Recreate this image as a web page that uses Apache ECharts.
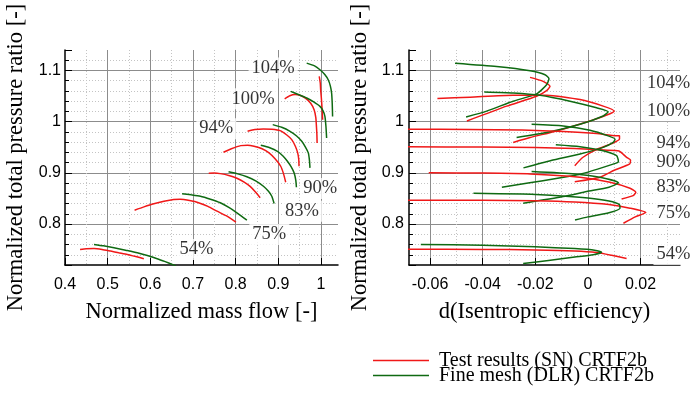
<!DOCTYPE html>
<html>
<head>
<meta charset="utf-8">
<script src="https://cdn.jsdelivr.net/npm/echarts@6/dist/echarts.min.js"></script>
<style>
  html, body { margin: 0; padding: 0; background: #fff; }
  #chart { width: 691px; height: 393px; }
</style>
</head>
<body>
<div id="chart"></div>
<script>
// Speed lines, [normalized mass flow, normalized total pressure ratio]
const speedNames = ['104%', '100%', '94%', '90%', '83%', '75%', '54%'];

const mapTest104 = [[0.996,1.0883],[0.9985,1.075],[0.9993,1.0624],[1.001,1.046],[1.0023,1.0298],[1.004,1.0039]];
const mapTest100 = [[0.915,1.0445],[0.927,1.0505],[0.9393,1.053],[0.952,1.051],[0.965,1.045],[0.976,1.036],[0.984,1.0234],[0.988,1.008],[0.9895,0.99],[0.9905,0.975],[0.991,0.9585]];
const mapTest94 = [[0.828,0.9811],[0.845,0.9845],[0.865,0.9858],[0.885,0.985],[0.904,0.9825],[0.92,0.974],[0.9315,0.9649],[0.94,0.952],[0.9455,0.939],[0.948,0.926],[0.9486,0.9129]];
const mapTest90 = [[0.7715,0.9402],[0.79,0.947],[0.812,0.9532],[0.828,0.954],[0.8432,0.9519],[0.862,0.947],[0.8783,0.939],[0.893,0.927],[0.9057,0.9129],[0.912,0.899],[0.9174,0.8817]];
const mapTest83 = [[0.737,0.899],[0.75,0.8995],[0.764,0.8985],[0.784,0.895],[0.803,0.8895],[0.82,0.882],[0.834,0.8735],[0.846,0.863],[0.8575,0.8513]];
const mapTest75 = [[0.5631,0.8271],[0.585,0.8335],[0.6082,0.8396],[0.632,0.8445],[0.6549,0.848],[0.67,0.8485],[0.6783,0.848],[0.695,0.8455],[0.7096,0.8427],[0.735,0.8345],[0.7563,0.8251],[0.7797,0.8154],[0.8007,0.8037]];
const mapTest54 = [[0.4353,0.7505],[0.45,0.7518],[0.468,0.7524],[0.487,0.7505],[0.507,0.7472],[0.526,0.744],[0.546,0.7407],[0.566,0.7365],[0.5848,0.7323]];

const mapCfd104 = [[0.9666,1.1144],[0.985,1.109],[0.9977,1.1014],[1.009,1.092],[1.017,1.0819],[1.022,1.07],[1.025,1.056],[1.0265,1.035],[1.0273,1.0103]];
const mapCfd100 = [[0.9291,1.0591],[0.947,1.053],[0.9666,1.0462],[0.983,1.0385],[0.9977,1.0298],[1.005,1.021],[1.0093,1.0103],[1.0118,0.99],[1.0133,0.9682]];
const mapCfd94 = [[0.887,0.9942],[0.908,0.989],[0.9276,0.9811],[0.943,0.972],[0.955,0.9616],[0.964,0.95],[0.9704,0.939],[0.973,0.925],[0.9743,0.9097]];
const mapCfd90 = [[0.859,0.9538],[0.88,0.949],[0.898,0.9421],[0.911,0.933],[0.9214,0.9226],[0.93,0.912],[0.937,0.9],[0.941,0.886],[0.9425,0.872]];
const mapCfd83 = [[0.7834,0.902],[0.805,0.898],[0.8264,0.8925],[0.847,0.8845],[0.8652,0.8739],[0.877,0.864],[0.8848,0.8544],[0.8902,0.8402]];
const mapCfd75 = [[0.6745,0.8591],[0.696,0.857],[0.7173,0.8544],[0.741,0.8485],[0.764,0.8415],[0.785,0.832],[0.803,0.822],[0.8264,0.8076]];
const mapCfd54 = [[0.468,0.7602],[0.49,0.7575],[0.5147,0.7538],[0.542,0.749],[0.5694,0.744],[0.593,0.7385],[0.6161,0.7323],[0.635,0.7265],[0.6512,0.7212],[0.66,0.718]];

// Speed lines, [delta isentropic efficiency, normalized total pressure ratio]
const effTest104 = [[-0.022,1.0865],[-0.017,1.0787],[-0.0144,1.069],[-0.0157,1.0606],[-0.0195,1.0497],[-0.0309,1.0303],[-0.046,1.0013]];
const effTest100 = [[-0.0572,1.0452],[-0.0448,1.0477],[-0.0284,1.0516],[-0.0157,1.0516],[-0.003,1.0432],[0.0058,1.0303],[0.010,1.0206],[0.0084,1.0155],[0.0008,1.0013],[-0.0119,0.9819],[-0.022,0.969],[-0.0284,0.9594]];
const effTest94 = [[-0.069,0.9852],[-0.045,0.9848],[-0.025,0.9835],[-0.0094,0.9806],[0.0033,0.9768],[0.0109,0.9725],[0.012,0.9725],[0.012,0.966],[0.009,0.957],[0.003,0.945],[-0.002,0.93],[-0.005,0.914]];
const effTest90 = [[-0.069,0.9508],[-0.04,0.9505],[-0.02,0.9495],[-0.005,0.9475],[0.006,0.9445],[0.0118,0.9427],[0.0147,0.9303],[0.0162,0.925],[0.0159,0.9176],[0.01,0.905],[0.0046,0.8915],[-0.005,0.8825]];
const effTest83 = [[-0.0605,0.90],[-0.04,0.8995],[-0.022,0.898],[-0.003,0.8915],[0.0084,0.8817],[0.016,0.87],[0.0182,0.8621],[0.0172,0.8556],[0.0128,0.849]];
const effTest75 = [[-0.069,0.8466],[-0.04,0.8466],[-0.02,0.8455],[-0.005,0.843],[0.008,0.838],[0.016,0.831],[0.022,0.8225],[0.018,0.814],[0.0135,0.8015]];
const effTest54 = [[-0.069,0.751],[-0.04,0.7505],[-0.02,0.7495],[-0.005,0.7475],[0.0033,0.7444],[0.009,0.739],[0.0147,0.7327]];

const effCfd104 = [[-0.0505,1.1142],[-0.0347,1.1077],[-0.022,1.0994],[-0.0163,1.0916],[-0.0148,1.0839],[-0.0157,1.0723],[-0.0195,1.0542],[-0.0284,1.04],[-0.0385,1.0206],[-0.0463,1.009]];
const effCfd100 = [[-0.0394,1.0581],[-0.0284,1.0561],[-0.0182,1.0516],[-0.0068,1.04],[0.0033,1.0271],[0.0077,1.0194],[0.0058,1.011],[-0.003,0.9948],[-0.0157,0.9787],[-0.0271,0.969]];
const effCfd94 = [[-0.0214,0.9948],[-0.0094,0.9916],[0.0008,0.9832],[0.0077,0.9723],[0.0103,0.9658],[0.0096,0.9594],[0.0058,0.9497],[-0.003,0.9368],[-0.014,0.924],[-0.0245,0.9097]];
const effCfd90 = [[-0.0122,0.9548],[-0.003,0.951],[0.0058,0.9432],[0.0109,0.9335],[0.0116,0.9226],[0.011,0.9195],[-0.0036,0.8967],[-0.0327,0.872]];
const effCfd83 = [[-0.0214,0.9026],[-0.005,0.898],[0.005,0.891],[0.0116,0.8805],[0.008,0.872],[-0.0005,0.8634],[-0.0094,0.8536],[-0.0246,0.8405]];
const effCfd75 = [[-0.0435,0.86],[-0.025,0.8585],[-0.01,0.855],[0.0,0.851],[0.008,0.845],[0.012,0.838],[0.0122,0.8307],[0.008,0.822],[0.0,0.814],[-0.0049,0.8078]];
const effCfd54 = [[-0.0635,0.7602],[-0.04,0.7585],[-0.02,0.7555],[-0.005,0.752],[0.003,0.7485],[0.0052,0.745],[0.002,0.74],[-0.005,0.7355],[-0.015,0.729],[-0.0246,0.7229]];

// Where each speed tag sits, in axis units of its panel
const mapTagAnchors = [[0.888,1.1047],[0.8407,1.0448],[0.7547,0.9864],[0.9984,0.8694],[0.9556,0.8251],[0.879,0.7797],[0.7084,0.7505]];
const effTagAnchors = [[0.0307,1.0754],[0.0307,1.0214],[0.0325,0.9585],[0.0325,0.9214],[0.0325,0.8723],[0.0325,0.822],[0.0325,0.7407]];

const TEST = 'Test results (SN) CRTF2b';
const CFD = 'Fine mesh (DLR) CRTF2b';
const RED = '#f01818';
const GREEN = '#0f6a12';

const mapTest = [mapTest104, mapTest100, mapTest94, mapTest90, mapTest83, mapTest75, mapTest54];
const mapCfd = [mapCfd104, mapCfd100, mapCfd94, mapCfd90, mapCfd83, mapCfd75, mapCfd54];
const effTest = [effTest104, effTest100, effTest94, effTest90, effTest83, effTest75, effTest54];
const effCfd = [effCfd104, effCfd100, effCfd94, effCfd90, effCfd83, effCfd75, effCfd54];

const SERIF = 'Liberation Serif';
const SANS = 'Liberation Sans';

function curve(name, color, data, panel) {
  return {
    type: 'line', name: name, xAxisIndex: panel, yAxisIndex: panel,
    data: data, symbol: 'none', showSymbol: false, smooth: 0.2,
    lineStyle: { color: color, width: 1.5 }, itemStyle: { color: color },
    clip: true, silent: true, z: 3
  };
}

function tags(anchors, panel) {
  return {
    type: 'scatter', name: 'tags' + panel, xAxisIndex: panel, yAxisIndex: panel,
    symbolSize: 0, clip: false, silent: true, z: 10,
    data: anchors.map((p, i) => ({ value: p, name: speedNames[i] })),
    label: {
      show: true, position: 'inside', formatter: '{b}',
      fontFamily: SERIF, fontSize: 18.5, color: '#000',
      backgroundColor: '#fff', padding: [1, 3]
    }
  };
}

const series = [];
for (let i = 0; i < speedNames.length; i++) {
  series.push(curve(TEST, RED, mapTest[i], 0));
  series.push(curve(CFD, GREEN, mapCfd[i], 0));
  series.push(curve(TEST, RED, effTest[i], 1));
  series.push(curve(CFD, GREEN, effCfd[i], 1));
}
series.push(tags(mapTagAnchors, 0));
series.push(tags(effTagAnchors, 1));

function valueAxis(extra) {
  return Object.assign({
    type: 'value',
    axisLine: { show: true, onZero: false, lineStyle: { color: '#000', width: 1.5 } },
    axisTick: { show: true, inside: true, length: 7, lineStyle: { color: '#000', width: 1 } },
    axisLabel: { color: '#000', fontFamily: SANS, fontSize: 16, showMinLabel: false, showMaxLabel: false },
    splitLine: { show: true, showMinLine: false, showMaxLine: false, lineStyle: { color: '#8c8c8c', width: 1 } },
    minorSplitLine: { show: true, lineStyle: { color: '#c4c4c4', width: 1, type: [1, 2] } },
    nameLocation: 'middle',
    nameTextStyle: { fontFamily: SERIF, fontSize: 22.5, color: '#000' }
  }, extra);
}

const yCommon = {
  min: 0.72, max: 1.14,
  name: 'Normalized total pressure ratio [-]', nameRotate: 90, nameGap: 37,
  minorTick: { show: true, splitNumber: 5, length: 4, lineStyle: { color: '#000' } }
};

// One legend block per row so the two rows can sit closer than the font height
function legendEntry(name, color, top) {
  return {
    data: [{ name: name, icon: 'rect', itemStyle: { color: color } }],
    orient: 'vertical', left: 373, top: top, padding: 0,
    itemWidth: 56, itemHeight: 1.5,
    selectedMode: false,
    textStyle: { fontFamily: SERIF, fontSize: 20, color: '#000', lineHeight: 20, padding: [0, 0, 5, 5] }
  };
}

const option = {
  animation: false,
  backgroundColor: '#fff',
  grid: [
    { left: 65, right: 353, top: 50, bottom: 128 },
    { left: 409, right: 11, top: 50, bottom: 128 }
  ],
  xAxis: [
    valueAxis({
      gridIndex: 0, min: 0.4, max: 1.04, interval: 0.1,
      name: 'Normalized mass flow [-]', nameGap: 36,
      axisLabel: { color: '#000', fontFamily: SANS, fontSize: 16, showMinLabel: true, showMaxLabel: false, margin: 12 },
      minorTick: { show: false, splitNumber: 2 }
    }),
    valueAxis({
      gridIndex: 1, min: -0.068, max: 0.035,
      name: 'd(Isentropic efficiency)', nameGap: 36,
      axisLabel: { color: '#000', fontFamily: SANS, fontSize: 16, showMinLabel: false, showMaxLabel: false, margin: 12 },
      minorTick: { show: false, splitNumber: 2 }
    })
  ],
  yAxis: [
    valueAxis(Object.assign({ gridIndex: 0 }, yCommon, {
      axisLabel: { color: '#000', fontFamily: SANS, fontSize: 16, showMinLabel: false, showMaxLabel: false, margin: 4 }
    })),
    valueAxis(Object.assign({ gridIndex: 1 }, yCommon, {
      axisLabel: { color: '#000', fontFamily: SANS, fontSize: 16, showMinLabel: false, showMaxLabel: false, margin: 5 }
    }))
  ],
  legend: [
    legendEntry(TEST, RED, 348),
    legendEntry(CFD, GREEN, 363)
  ],
  series: series
};

echarts.init(document.getElementById('chart'), null, { renderer: 'canvas' }).setOption(option);
</script>
</body>
</html>
